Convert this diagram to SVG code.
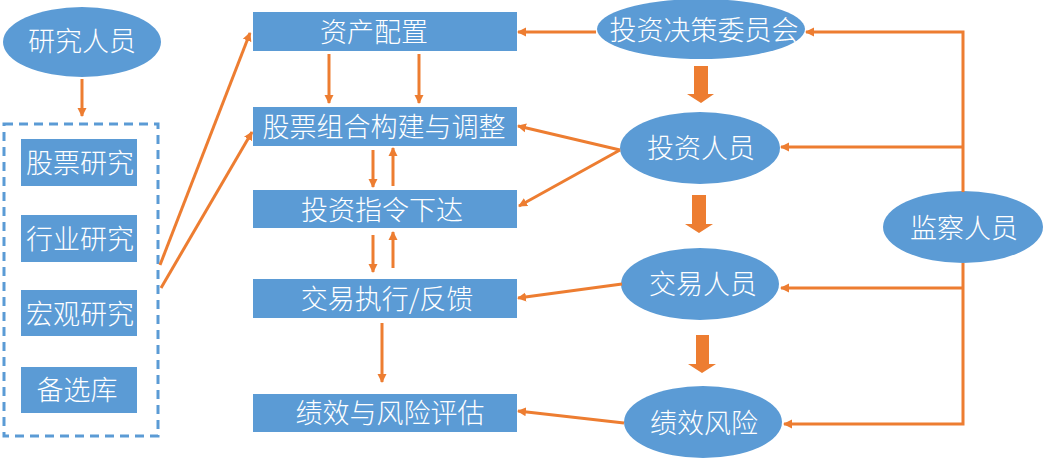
<svg xmlns="http://www.w3.org/2000/svg" width="1062" height="459" viewBox="0 0 1062 459">
<style>
.n{fill:#5B9BD5}
.t{fill:#fff;font-family:"Noto Sans CJK SC","Noto Sans",sans-serif;font-size:27px;font-weight:300;text-anchor:middle;dominant-baseline:central}
.c{stroke:#ED7D31;stroke-width:3;fill:none}
.b{fill:#ED7D31}
</style>
<defs>
<marker id="a" markerWidth="10" markerHeight="10" refX="8" refY="5" orient="auto" markerUnits="userSpaceOnUse">
<path d="M0,0.5 L9,5 L0,9.5 z" fill="#ED7D31"/>
</marker>
</defs>
<rect width="1062" height="459" fill="#fff"/>
<g id="researchers"><ellipse class="n" cx="82" cy="42" rx="79" ry="35"/><text class="t" x="82" y="39">研究人员</text></g>
<g id="research-group"><rect x="4" y="124" width="154" height="312" fill="none" stroke="#5B9BD5" stroke-width="3" stroke-dasharray="9,6"/></g>
<g id="stock-research"><rect class="n" x="21" y="139" width="116" height="47"/><text class="t" x="80" y="161">股票研究</text></g>
<g id="industry-research"><rect class="n" x="21" y="215" width="116" height="47"/><text class="t" x="80" y="237">行业研究</text></g>
<g id="macro-research"><rect class="n" x="21" y="290" width="116" height="46"/><text class="t" x="80" y="312">宏观研究</text></g>
<g id="candidate-pool"><rect class="n" x="21" y="367" width="116" height="46"/><text class="t" x="77" y="388">备选库</text></g>
<g id="asset-allocation"><rect class="n" x="253" y="12" width="264" height="39"/><text class="t" x="374" y="30">资产配置</text></g>
<g id="portfolio"><rect class="n" x="253" y="107" width="264" height="39"/><text class="t" x="384" y="125">股票组合构建与调整</text></g>
<g id="order"><rect class="n" x="253" y="190" width="264" height="38"/><text class="t" x="382" y="208">投资指令下达</text></g>
<g id="execution"><rect class="n" x="253" y="279" width="264" height="39"/><text class="t" x="387" y="297">交易执行/反馈</text></g>
<g id="evaluation"><rect class="n" x="253" y="394" width="264" height="38"/><text class="t" x="390" y="411">绩效与风险评估</text></g>
<g id="committee"><ellipse class="n" cx="701" cy="29" rx="104" ry="30"/><text class="t" x="704" y="28">投资决策委员会</text></g>
<g id="investors"><ellipse class="n" cx="700" cy="148" rx="80" ry="36"/><text class="t" x="701" y="146">投资人员</text></g>
<g id="traders"><ellipse class="n" cx="700" cy="284" rx="79" ry="36"/><text class="t" x="703" y="282">交易人员</text></g>
<g id="performance"><ellipse class="n" cx="703" cy="422" rx="79" ry="36"/><text class="t" x="704" y="421">绩效风险</text></g>
<g id="supervisors"><ellipse class="n" cx="963" cy="227" rx="80" ry="36"/><text class="t" x="964" y="226">监察人员</text></g>
<g id="connectors">
<line class="c" x1="82" y1="79" x2="82" y2="116" marker-end="url(#a)"/>
<line class="c" x1="160" y1="265" x2="250" y2="33" marker-end="url(#a)"/>
<line class="c" x1="161" y1="288" x2="252" y2="132" marker-end="url(#a)"/>
<line class="c" x1="329" y1="54" x2="329" y2="103" marker-end="url(#a)"/>
<line class="c" x1="419" y1="54" x2="419" y2="103" marker-end="url(#a)"/>
<line class="c" x1="373" y1="150" x2="373" y2="187" marker-end="url(#a)"/>
<line class="c" x1="393" y1="186" x2="393" y2="148" marker-end="url(#a)"/>
<line class="c" x1="373" y1="235" x2="373" y2="272" marker-end="url(#a)"/>
<line class="c" x1="393" y1="268" x2="393" y2="232" marker-end="url(#a)"/>
<line class="c" x1="382" y1="323" x2="382" y2="382" marker-end="url(#a)"/>
<line class="c" x1="596" y1="32" x2="518" y2="32" marker-end="url(#a)"/>
<line class="c" x1="620" y1="150" x2="518" y2="126" marker-end="url(#a)"/>
<line class="c" x1="620" y1="150" x2="519" y2="206" marker-end="url(#a)"/>
<line class="c" x1="622" y1="284" x2="518" y2="298" marker-end="url(#a)"/>
<line class="c" x1="624" y1="423" x2="518" y2="411" marker-end="url(#a)"/>
<polyline class="c" points="963,192 963,32 806,32" marker-end="url(#a)"/>
<line class="c" x1="963" y1="147" x2="781" y2="147" marker-end="url(#a)"/>
<polyline class="c" points="963,263 963,424 784,424" marker-end="url(#a)"/>
<line class="c" x1="963" y1="288" x2="781" y2="288" marker-end="url(#a)"/>
<path class="b" d="M694,66 H708 V94 H714 L701,103 L687,94 H694 Z"/>
<path class="b" d="M692,195 H706 V224 H713 L699,233 L685,224 H692 Z"/>
<path class="b" d="M696,335 H709 V364 H716 L702,373 L688,364 H696 Z"/>
</g>
</svg>
